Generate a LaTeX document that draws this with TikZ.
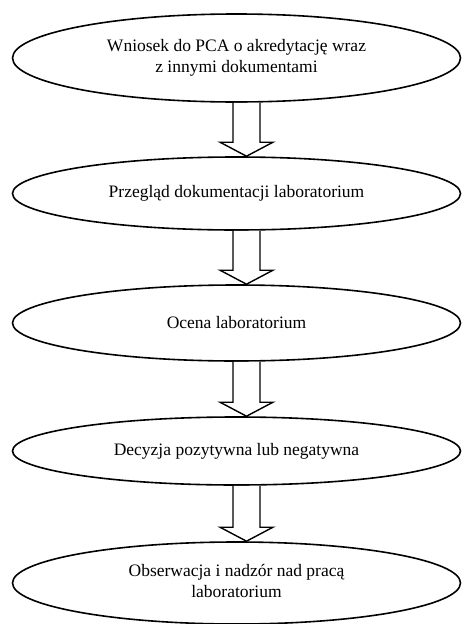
\documentclass[tikz,border=0pt]{standalone}
\usepackage{fontspec}
\setmainfont{Liberation Serif}
\usetikzlibrary{shapes.geometric,calc}

\tikzset{
  stage/.style={ellipse, draw, line width=1.6pt, minimum width=448pt,
    inner sep=0pt, align=center, font=\fontsize{17.5}{21}\selectfont},
  blockarrow/.style={draw, line width=1.4pt, fill=white, line join=miter}
}

% hollow block arrow from the bottom of #1 to the top of #2
\newcommand\flowarrow[2]{%
  \draw[blockarrow]
    ($(#1.south)+(-3.5,0)$) --
    ($(#2.north)+(-3.5,-14)$) --
    ($(#2.north)+(-16.5,-14)$) --
    ($(#2.north)+(10,0)$) --
    ($(#2.north)+(36.5,-14)$) --
    ($(#2.north)+(23.5,-14)$) --
    ($(#1.south)+(23.5,0)$);}

\begin{document}
\begin{tikzpicture}[x=1pt, y=-1pt]
  \useasboundingbox (0,0) rectangle (461,624);
  \fill[white] (0,0) rectangle (461,624);

  \node[stage, minimum height=88pt] (n1) at (236.5,58)
    {Wniosek do PCA o akredytację wraz\\z innymi dokumentami};
  \node[stage, minimum height=73pt] (n2) at (236.5,193.5)
    {Przegląd dokumentacji laboratorium};
  \node[stage, minimum height=76pt] (n3) at (236.5,323)
    {Ocena laboratorium};
  \node[stage, minimum height=68pt] (n4) at (236.5,451)
    {Decyzja pozytywna lub negatywna};
  \node[stage, minimum height=82pt] (n5) at (236.5,583)
    {\raisebox{-4pt}{\begin{tabular}{@{}c@{}}Obserwacja i nadzór nad pracą\\laboratorium\end{tabular}}};

  \flowarrow{n1}{n2}
  \flowarrow{n2}{n3}
  \flowarrow{n3}{n4}
  \flowarrow{n4}{n5}
\end{tikzpicture}
\end{document}
